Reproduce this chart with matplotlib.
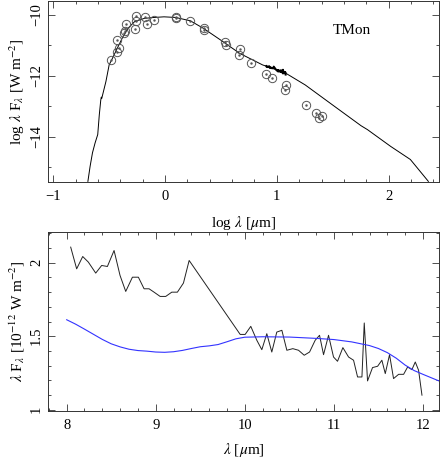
import numpy as np
import matplotlib
matplotlib.use("Agg")
import matplotlib.pyplot as plt
from matplotlib.ticker import MultipleLocator

plt.rcParams['font.family'] = ['Liberation Serif', 'DejaVu Serif']
plt.rcParams['mathtext.fontset'] = 'stix'

# ---- top panel: SED model (log lambda [um], log lambda F_lambda [W m^-2])
model_logl = [-0.690, -0.670, -0.649, -0.626, -0.602, -0.588, -0.575, -0.570, -0.566,
              -0.529, -0.500, -0.478, -0.420, -0.376, -0.332, -0.273, -0.185, -0.097,
              -0.009, 0.094, 0.226, 0.344, 0.520, 0.667, 0.872, 1.078, 1.254, 1.518,
              1.753, 1.811, 2.018, 2.194, 2.250, 2.355]
model_logf = [-15.47, -14.97, -14.53, -14.21, -13.93, -13.28, -12.80, -12.70, -12.74,
              -12.19, -11.64, -11.48, -11.04, -10.71, -10.44, -10.22, -10.11, -10.08,
              -10.06, -10.08, -10.19, -10.44, -10.88, -11.26, -11.64, -11.91, -12.30, -13.01,
              -13.64, -13.77, -14.32, -14.75, -15.00, -15.47]

# photometry
phot_logl = [-0.487, -0.434, -0.432, -0.411, -0.370, -0.355, -0.352, -0.273, -0.258,
             -0.258, -0.179, -0.165, -0.097, 0.094, 0.094, 0.226, 0.344, 0.350, 0.535,
             0.549, 0.672, 0.661, 0.769, 0.901, 0.960, 1.086, 1.069, 1.263, 1.351,
             1.381, 1.407]
phot_logf = [-11.49, -11.20, -10.81, -11.09, -10.60, -10.51, -10.30, -10.46, -10.03,
             -10.19, -10.08, -10.30, -10.16, -10.08, -10.11, -10.20, -10.44, -10.49, -10.90,
             -10.98, -11.12, -11.31, -11.58, -11.93, -12.06, -12.30, -12.46, -12.95, -13.22,
             -13.39, -13.33]

# ---- bottom panel: N-band spectrum (lambda [um], lambda F_lambda [1e-12 W m^-2])
spec_lam = [8.045, 8.112, 8.180, 8.243, 8.326, 8.393, 8.457, 8.532, 8.599, 8.663,
            8.738, 8.805, 8.869, 8.925, 8.981, 9.049, 9.112, 9.180, 9.243, 9.311,
            9.375, 9.948, 10.004, 10.067, 10.135, 10.191, 10.247, 10.303, 10.359, 10.416,
            10.472, 10.539, 10.603, 10.667, 10.727, 10.790, 10.839, 10.884, 10.940, 10.996,
            11.041, 11.101, 11.165, 11.221, 11.266, 11.315, 11.341, 11.378, 11.434, 11.491,
            11.539, 11.577, 11.625, 11.670, 11.727, 11.783, 11.828, 11.876, 11.914, 11.951,
            11.989]
spec_flux = [2.107, 1.959, 2.043, 2.005, 1.930, 1.982, 1.975, 2.084, 1.914, 1.805,
             1.902, 1.902, 1.823, 1.823, 1.800, 1.771, 1.771, 1.800, 1.800, 1.862,
             2.016, 1.512, 1.512, 1.567, 1.472, 1.408, 1.517, 1.392, 1.528, 1.540,
             1.404, 1.415, 1.404, 1.370, 1.392, 1.472, 1.506, 1.374, 1.506, 1.358,
             1.329, 1.422, 1.358, 1.336, 1.222, 1.222, 1.590, 1.195, 1.286, 1.295,
             1.336, 1.245, 1.374, 1.211, 1.240, 1.240, 1.290, 1.272, 1.324, 1.268,
             1.098]

# model in N band
nmod_lam = [8.0, 8.1, 8.2, 8.3, 8.4, 8.5, 8.6, 8.7, 8.8, 8.9, 9.0, 9.1, 9.2, 9.3,
            9.4, 9.5, 9.6, 9.7, 9.8, 9.9, 10.0, 10.2, 10.5, 10.8, 11.0, 11.2, 11.4,
            11.5, 11.6, 11.7, 11.8, 11.9, 12.0, 12.1, 12.2]
nmod_flux = [1.612, 1.582, 1.548, 1.513, 1.478, 1.448, 1.427, 1.411, 1.402, 1.398,
             1.392, 1.390, 1.394, 1.403, 1.416, 1.428, 1.434, 1.443, 1.462, 1.482,
             1.493, 1.496, 1.494, 1.485, 1.477, 1.461, 1.436, 1.416, 1.388, 1.350,
             1.303, 1.266, 1.240, 1.215, 1.190]

fig = plt.figure(figsize=(4.41, 4.63), dpi=100)
ax1 = fig.add_axes([0.1088, 0.6076, 0.8866, 0.3902])
ax2 = fig.add_axes([0.1088, 0.1123, 0.8866, 0.3866])

def style(ax):
    ax.tick_params(which='both', direction='in', top=True, right=True,
                   labelsize=10.5, width=0.6, colors='#333333', labelcolor='black')
    ax.tick_params(which='major', length=5)
    ax.tick_params(which='minor', length=2.5)
    ax.tick_params(axis='x', which='major', pad=6)
    for s in ax.spines.values():
        s.set_linewidth(0.7)
        s.set_color('#333333')
    for lab in ax.get_yticklabels():
        lab.set_rotation(90)
        lab.set_va('center')

# top panel
ax1.plot(model_logl, model_logf, color='black', lw=0.7)
ax1.plot(phot_logl, phot_logf, 'o', ms=6, mfc='none', mec='#555555', mew=0.7)
ax1.plot(phot_logl, phot_logf, '.', ms=1.5, color='#555555')
irs_x = np.log10(np.array(spec_lam))
irs_y = np.log10(np.array(spec_flux) * 1e-12)
ax1.plot(irs_x, irs_y, color='black', lw=1.4)
ax1.text(1.67, -10.52, 'TMon', fontsize=11, ha='center', va='center')
ax1.set_xlim(-1.047, 2.45)
ax1.set_ylim(-15.48, -9.54)
ax1.xaxis.set_major_locator(MultipleLocator(1))
ax1.xaxis.set_minor_locator(MultipleLocator(0.2))
ax1.yaxis.set_major_locator(MultipleLocator(2))
ax1.yaxis.set_minor_locator(MultipleLocator(1))
ax1.set_xticks([-1, 0, 1, 2])
ax1.set_xticklabels(['\u22121', '0', '1', '2'])
ax1.set_yticks([-10, -12, -14])
ax1.set_yticklabels(['\u221210', '\u221212', '\u221214'])
ax1.set_xlabel(r'log $\lambda$ [$\mu$m]', fontsize=11, labelpad=8)
ax1.set_ylabel(r'log $\lambda$ F$_\lambda$ [W m$^{-2}$]', fontsize=11, labelpad=2)
style(ax1)

# bottom panel
ax2.plot(spec_lam, spec_flux, color='#222222', lw=0.7)
ax2.plot(nmod_lam, nmod_flux, color='#3333ff', lw=0.8)
ax2.set_xlim(7.79, 12.18)
ax2.set_ylim(0.99, 2.21)
ax2.xaxis.set_major_locator(MultipleLocator(1))
ax2.xaxis.set_minor_locator(MultipleLocator(0.2))
ax2.yaxis.set_major_locator(MultipleLocator(0.5))
ax2.yaxis.set_minor_locator(MultipleLocator(0.1))
ax2.set_yticks([1, 1.5, 2])
ax2.set_yticklabels(['1', '1.5', '2'])
ax2.set_xlabel(r'$\lambda$ [$\mu$m]', fontsize=11, labelpad=6)
ax2.set_ylabel(r'$\lambda$ F$_\lambda$ [10$^{-12}$ W m$^{-2}$]', fontsize=11, labelpad=2)
style(ax2)

fig.savefig('out.png', dpi=100)
